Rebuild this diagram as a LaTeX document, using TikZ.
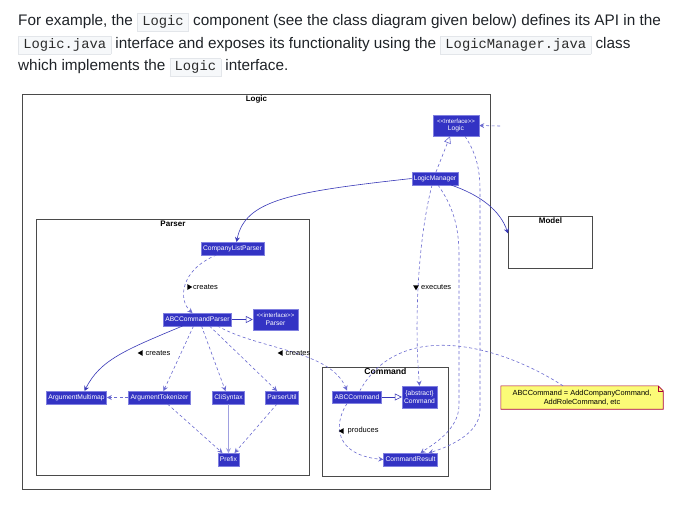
\documentclass[tikz,border=0pt]{standalone}
\usepackage{fontspec}
\setmainfont{Liberation Sans}
\setmonofont{Liberation Mono}
\usetikzlibrary{arrows.meta,shapes.geometric,backgrounds}

\definecolor{classblue}{HTML}{3333C4}
\definecolor{classedge}{HTML}{8080E0}
\definecolor{linkblue}{HTML}{3838B8}
\definecolor{dashblue}{HTML}{6A6AD0}
\definecolor{softblue}{HTML}{A0A0E0}
\definecolor{pkgedge}{HTML}{4A4A4A}
\definecolor{notefill}{HTML}{FBFB77}
\definecolor{noteedge}{HTML}{A80036}
\definecolor{codebg}{HTML}{F6F8FA}
\definecolor{codeedge}{HTML}{E3E6EA}
\definecolor{bodytext}{HTML}{1F2328}
\definecolor{codetext}{HTML}{2B2B2B}

\newcommand{\inlinecode}[1]{{\setlength{\fboxsep}{1.5pt}\setlength{\fboxrule}{0.6pt}%
	\fcolorbox{codeedge}{codebg}{\hspace{3pt}\color{codetext}\fontsize{13.8}{14}\ttfamily\strut #1\hspace{3pt}}}}

\begin{document}
\begin{tikzpicture}[
		x=1pt, y=-1pt,
		textline/.style={anchor=base west, inner sep=0pt, text=bodytext, font=\fontsize{15.3}{17}\selectfont},
		pkg/.style={draw=pkgedge, line width=0.9pt, anchor=north west, inner sep=0pt},
		pkgtitle/.style={anchor=north, inner sep=1.5pt, font=\fontsize{8}{9}\selectfont\bfseries},
		cls/.style={
			draw=classedge,
			fill=classblue,
			text=white,
			line width=0.5pt,
			align=center,
			inner xsep=2pt,
			inner ysep=1.5pt,
			minimum height=12.5pt,
			font=\fontsize{6.7}{7.6}\selectfont
		},
		dep/.style={draw=dashblue, line width=0.6pt, dash pattern=on 3pt off 2.5pt,
			-{Stealth[length=5pt,width=5pt,inset=1.8pt]}},
		assoc/.style={draw=linkblue, line width=0.6pt, -{Stealth[length=5pt,width=5pt,inset=1.8pt]}},
		impl/.style={draw=dashblue, line width=0.6pt, dash pattern=on 3pt off 2.5pt,
			-{Triangle[open,length=7pt,width=7pt]}},
		gen/.style={draw=linkblue, line width=0.6pt, -{Triangle[open,length=7pt,width=7pt]}},
		notelink/.style={draw=dashblue, line width=0.6pt, dash pattern=on 3pt off 2.5pt},
		lbl/.style={anchor=west, inner sep=0pt, font=\fontsize{7.5}{8}\selectfont},
		dirmark/.style={isosceles triangle, fill=black, inner sep=0pt, minimum height=5pt,
			minimum width=5pt, isosceles triangle apex angle=60},
		notebox/.style={align=center, inner sep=0pt, minimum width=162pt, minimum height=23pt,
			font=\fontsize{7.4}{8.6}\selectfont}
		]
		\begin{scope}[on background layer]
			\path[fill=white, use as bounding box] (0,0) rectangle (676,504);
		\end{scope}
		
		% Intro text
		\node[textline] (lineA) at (18,25) {For example, the \inlinecode{Logic} component (see the class diagram given below) defines its API in the};
		\node[textline] (lineB) at (18,48) {\inlinecode{Logic.java} interface and exposes its functionality using the \inlinecode{LogicManager.java} class};
		\node[textline] (lineC) at (18,70.5) {which implements the \inlinecode{Logic} interface.};
		
		% Packages
		\node[pkg, minimum width=468pt, minimum height=395pt] (logicPkg) at (22,94) {};
		\node[pkg, minimum width=273pt, minimum height=256pt] (parserPkg) at (36,219) {};
		\node[pkg, minimum width=126pt, minimum height=109pt] (commandPkg) at (322,367) {};
		\node[pkg, minimum width=84pt, minimum height=52pt] (modelPkg) at (508,216) {};
		\node[pkgtitle] (logicTitle) at (logicPkg.north) {Logic};
		\node[pkgtitle] (parserTitle) at (parserPkg.north) {Parser};
		\node[pkgtitle, font=\fontsize{8.6}{9}\selectfont\bfseries] (commandTitle) at (commandPkg.north) {Command};
		\node[pkgtitle] (modelTitle) at (modelPkg.north) {Model};
		
		% Classes
		\node[cls, minimum height=21pt, minimum width=46pt] (logicIface) at (456,125.5) {{\fontsize{6.1}{7}\selectfont{<}{<}Interface{>}{>}}\\Logic};
		\node[cls] (logicMgr) at (435,178.5) {LogicManager};
		\node[cls] (compListParser) at (232.5,248.5) {CompanyListParser};
		\node[cls] (abcCmdParser) at (197.5,319.5) {ABCCommandParser};
		\node[cls, minimum height=21pt, minimum width=45pt] (parserIface) at (275.5,319.5) {{\fontsize{6.1}{7}\selectfont{<}{<}interface{>}{>}}\\Parser};
		\node[cls] (argMultimap) at (76.5,397.5) {ArgumentMultimap};
		\node[cls] (argTokenizer) at (159.5,397.5) {ArgumentTokenizer};
		\node[cls] (cliSyntax) at (228.5,397.5) {CliSyntax};
		\node[cls] (parserUtil) at (282,397.5) {ParserUtil};
		\node[cls] (prefixCls) at (228.5,459.5) {Prefix};
		\node[cls] (abcCmd) at (357,397) {ABCCommand};
		\node[cls, minimum height=22pt] (cmdAbstract) at (419.5,397) {\{abstract\}\\Command};
		\node[cls] (cmdResult) at (410.5,459.5) {CommandResult};
		
		% Note
		\node[notebox] (note) at (582,397.5) {ABCCommand = AddCompanyCommand,\\AddRoleCommand, etc};
		\begin{scope}[on background layer]
			\filldraw[draw=noteedge, fill=notefill, line width=0.6pt] (note.north west) -- ([xshift=-5pt]note.north east)
				-- ([yshift=-5pt]note.north east) -- (note.south east) -- (note.south west) -- cycle;
		\end{scope}
		\draw[draw=noteedge, line width=0.5pt] ([xshift=-5pt]note.north east) |- ([yshift=-5pt]note.north east);
		
		% Links around Logic
		\coordinate (logicIn) at (500,126);
		\draw[dep] (logicIn) -- (logicIface.east);
		\draw[impl] ([xshift=1pt]logicMgr.north) -- ([xshift=-6pt]logicIface.south);
		\draw[assoc] (logicMgr.west) .. controls (290,192) and (245,200) .. ([xshift=4pt]compListParser.north);
		\draw[assoc] ([xshift=16pt]logicMgr.south) .. controls (480,195) and (500,210) .. ([yshift=9pt]modelPkg.west);
		\draw[dep] ([xshift=-3pt]logicMgr.south) .. controls (418,240) and (414,320) .. (cmdAbstract.north);
		\draw[dep] ([xshift=3pt]logicMgr.south) .. controls (452,205) and (459,225) .. (459,255)
			-- (459,405) .. controls (459,430) and (432,445) .. ([xshift=10pt]cmdResult.north);
		\draw[dep] ([xshift=9pt]logicIface.south) .. controls (474,150) and (480,165) .. (480,190)
			-- (480,410) .. controls (480,435) and (445,448) .. ([xshift=18pt]cmdResult.north);
		
		% Links in Parser
		\draw[dep] ([xshift=-16pt]compListParser.south) .. controls (180,270) and (178,300) .. ([xshift=-5pt]abcCmdParser.north);
		\draw[gen] (abcCmdParser.east) -- (parserIface.west);
		\draw[assoc] ([xshift=-15pt]abcCmdParser.south) .. controls (125,350) and (100,360) .. ([xshift=8pt]argMultimap.north);
		\draw[dep] ([xshift=-4pt]abcCmdParser.south) -- ([xshift=4pt]argTokenizer.north);
		\draw[dep] ([xshift=4pt]abcCmdParser.south) -- ([xshift=-3pt]cliSyntax.north);
		\draw[dep] ([xshift=12pt]abcCmdParser.south) -- ([xshift=-5pt]parserUtil.north);
		\draw[dep] ([xshift=20pt]abcCmdParser.south) .. controls (260,350) and (330,350) .. ([xshift=-10pt]abcCmd.north);
		\draw[dep] (argTokenizer.west) -- (argMultimap.east);
		\draw[dep] ([xshift=8pt]argTokenizer.south) -- ([xshift=-6pt]prefixCls.north);
		\draw[draw=softblue, line width=1.1pt, -{Stealth[length=5pt,width=5pt,inset=1.8pt]}] (cliSyntax.south) -- (prefixCls.north);
		\draw[dep] ([xshift=-5pt]parserUtil.south) -- ([xshift=6pt]prefixCls.north);
		
		% Links in Command
		\draw[gen] (abcCmd.east) -- (cmdAbstract.west);
		\draw[dep] ([xshift=-10pt]abcCmd.south) .. controls (333,425) and (335,455) .. (cmdResult.west);
		\draw[notelink] ([xshift=-19pt]note.north) .. controls (500,345) and (400,318) .. ([xshift=3pt]abcCmd.north);
		
		% Link labels
		\node[dirmark, shape border rotate=-45] (mkCreatesA) at (189,287) {};
		\node[lbl] (lblCreatesA) at (193,287) {creates};
		\node[dirmark, shape border rotate=150] (mkCreatesB) at (141,353) {};
		\node[lbl] (lblCreatesB) at (145.5,353) {creates};
		\node[dirmark, shape border rotate=160] (mkCreatesC) at (281,353) {};
		\node[lbl] (lblCreatesC) at (285.5,353) {creates};
		\node[dirmark, shape border rotate=-90] (mkExecutes) at (416,287) {};
		\node[lbl] (lblExecutes) at (421,287) {executes};
		\node[dirmark, shape border rotate=210] (mkProduces) at (342,431) {};
		\node[lbl] (lblProduces) at (347.5,431) {produces};
		
	\end{tikzpicture}
\end{document}
